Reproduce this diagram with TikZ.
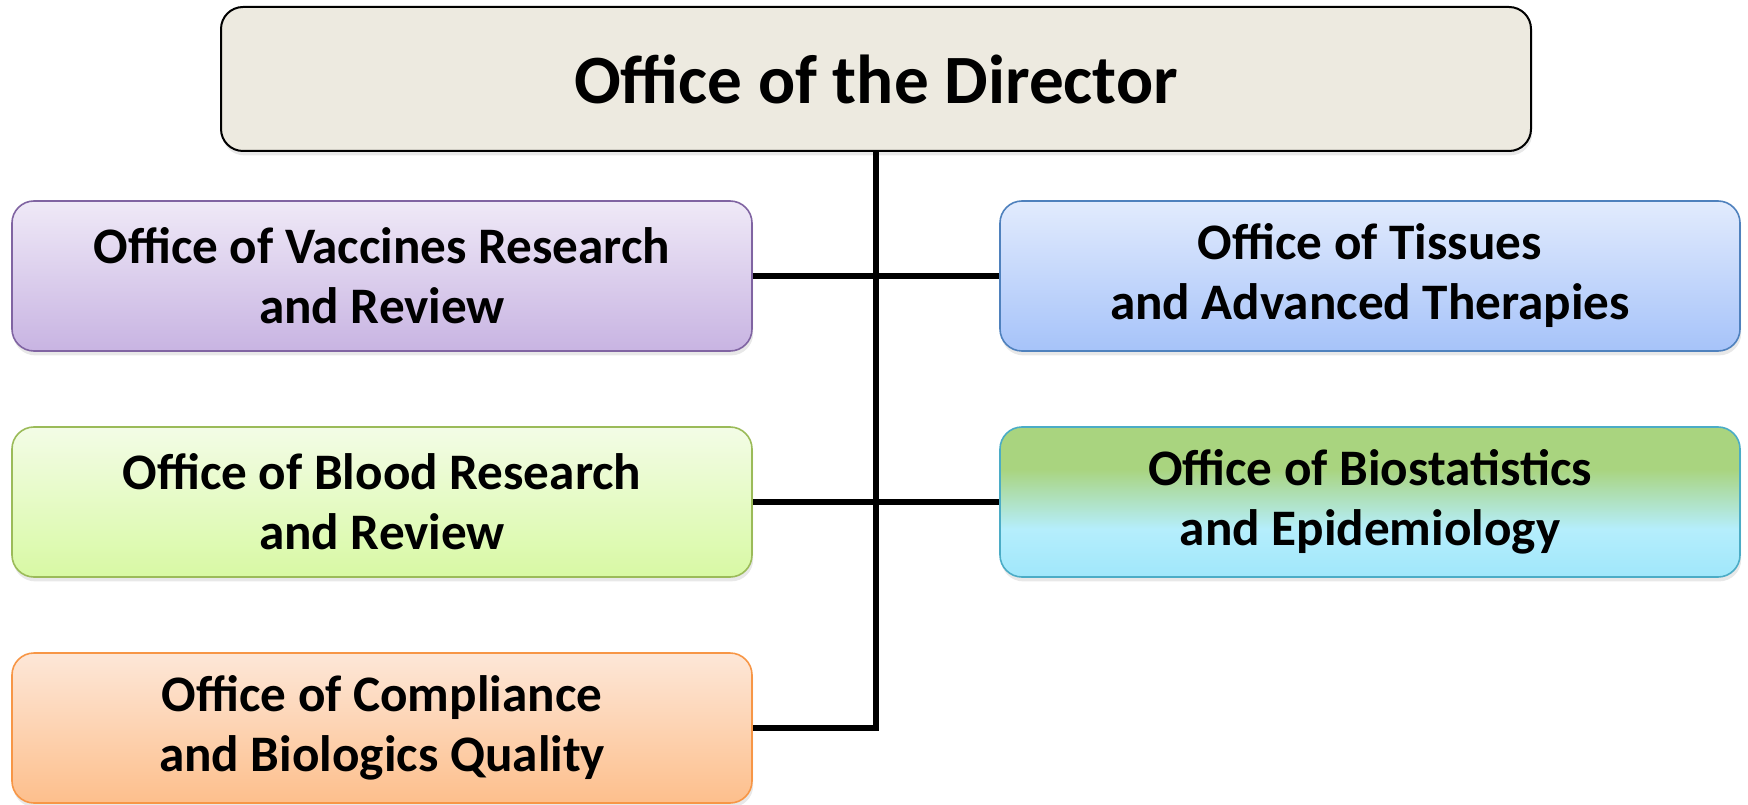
\documentclass[tikz,border=0pt]{standalone}
\usepackage{fontspec}
\setmainfont{Carlito}
\usetikzlibrary{shadows}
\definecolor{dirfill}{HTML}{EDEAE0}
\definecolor{vacline}{HTML}{8064A2}
\definecolor{vactop}{HTML}{EFE9F7}
\definecolor{vacbot}{HTML}{C8B4E2}
\definecolor{tisline}{HTML}{4F81BD}
\definecolor{tistop}{HTML}{E2EBFD}
\definecolor{tisbot}{HTML}{A6C3F9}
\definecolor{bldline}{HTML}{9BBB59}
\definecolor{bldtop}{HTML}{F3FCE6}
\definecolor{bldbot}{HTML}{D8F9A4}
\definecolor{bioline}{HTML}{4BACC6}
\definecolor{biotop}{HTML}{A9D47F}
\definecolor{biomid}{HTML}{B5EEFC}
\definecolor{biobot}{HTML}{A0E7FB}
\definecolor{cmpline}{HTML}{F79646}
\definecolor{cmptop}{HTML}{FDE7D8}
\definecolor{cmpbot}{HTML}{FDBF8C}
\pgfdeclareverticalshading{bioshade}{100bp}{color(0bp)=(biobot); color(25bp)=(biobot); color(41bp)=(biomid); color(61bp)=(biotop); color(100bp)=(biotop)}

\begin{document}
\begin{tikzpicture}[x=1pt,y=1pt]
	\tikzset{
		office/.style={draw, line width=0.8pt, rounded corners=11pt,
			minimum width=370pt, minimum height=75pt, inner sep=0pt, align=center,
			font=\bfseries\fontsize{25.6}{30}\selectfont,
			drop shadow={opacity=0.18, shadow xshift=0.6pt, shadow yshift=-2.2pt}},
		link/.style={line width=3pt}}
	\useasboundingbox (0,0) rectangle (874,402);
	\node[office, fill=dirfill, line width=1pt, minimum width=655pt, minimum height=72pt,
		font=\bfseries\fontsize{34.6}{40}\selectfont](dir) at (438,362.5){Office of the Director};
	\node[office, draw=vacline, top color=vactop, bottom color=vacbot](vac) at (191,264){Office of Vaccines Research\\and Review};
	\node[office, draw=tisline, top color=tistop, bottom color=tisbot](tis) at (685,264){Office of Tissues\\and Advanced Therapies};
	\node[office, draw=bldline, top color=bldtop, bottom color=bldbot](bld) at (191,151){Office of Blood Research\\and Review};
	\node[office, draw=bioline, shading=bioshade](bio) at (685,151){Office of Biostatistics\\and Epidemiology};
	\node[office, draw=cmpline, top color=cmptop, bottom color=cmpbot](cmp) at (191,38){Office of Compliance\\and Biologics Quality};
	\draw[link](dir.south)|-(cmp.east);
	\draw[link](vac.east)--(tis.west);
	\draw[link](bld.east)--(bio.west);
\end{tikzpicture}
\end{document}
